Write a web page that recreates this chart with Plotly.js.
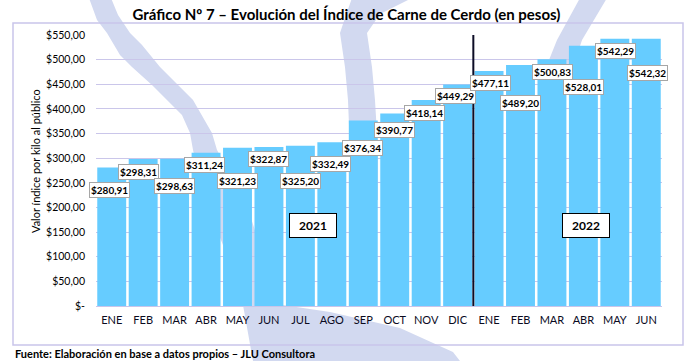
<!DOCTYPE html>
<html>
<head>
<meta charset="utf-8">
<script src="https://cdn.plot.ly/plotly-3.0.1.min.js"></script>
<style>html,body{margin:0;padding:0;background:#fff;}#chart{width:693px;height:361px;}</style>
</head>
<body>
<div id="chart"></div>
<script>
// ---- data ----
const months = ['ENE','FEB','MAR','ABR','MAY','JUN','JUL','AGO','SEP','OCT','NOV','DIC','ENE','FEB','MAR','ABR','MAY','JUN'];
const values = [280.91,298.31,298.63,311.24,321.23,322.87,325.20,332.49,376.34,390.77,418.14,449.29,477.11,489.20,500.83,528.01,542.29,542.32];
const yTickVals = [0,50,100,150,200,250,300,350,400,450,500,550];
const yTickText = ['$-','$50,00','$100,00','$150,00','$200,00','$250,00','$300,00','$350,00','$400,00','$450,00','$500,00','$550,00'];
const years = ['2021','2022'];

// ---- layout helpers (label placement in pixels below bar top) ----
const labelDrop = [22,13,27,12,33,12,35,22,27,17,13,11,12,38,13,41,12,34];
const labelXShift = [-2,-5,0,-2,0,0,0,-1,-1,0,-2,-2,1,0,1,0,1,1];

const L = 96, T = 35, W = 566, H = 271, B0 = 306;
const px = x => (x - L) / W;
const py = y => (B0 - y) / H;
const FONT = 'Lato, "Open Sans", sans-serif';

const fmt = v => '$' + v.toFixed(2).replace('.', ',');
const xs = months.map((m, i) => i);

function pathFrom(pts) {
  return 'M ' + pts.map(p => px(p[0]).toFixed(4) + ',' + py(p[1]).toFixed(4)).join(' L ') + ' Z';
}
const wm = '#d2d9f0';
const band1 = [[89,-2],[97,20],[107,33],[120,55],[132,67],[152,85],[167,100],[182,115],[190,133],[193,150],[205,200],[225,250],[240,290],[243,305],[253,361],[253,366],
               [470,366],[460,361],[453,352],[400,328],[330,312],[283,305],[268,270],[245,200],[217,150],[212,133],[193,100],[178,85],[160,67],[142,45],[130,33],[118,15],[111,-2]];
const band2 = [[352,-2],[345,18],[340,33],[345,67],[348,100],[350,150],[352,200],
               [378,200],[378,150],[375,100],[372,67],[367,33],[380,14],[412,-2]];
const band3 = [[580,-2],[557,40],[545,70],[572,70],[582,40],[607,-2]];

const shapes = [
  {type:'path', xref:'paper', yref:'paper', path: pathFrom(band1), fillcolor: wm, line:{width:0}, layer:'below'},
  {type:'path', xref:'paper', yref:'paper', path: pathFrom(band2), fillcolor: wm, line:{width:0}, layer:'below'},
  {type:'path', xref:'paper', yref:'paper', path: pathFrom(band3), fillcolor: wm, line:{width:0}, layer:'below'},
  {type:'rect', xref:'paper', yref:'paper', x0: px(13), x1: px(683), y0: py(345), y1: py(23),
   line:{color:'#c9c5ea', width:1.5}, fillcolor:'rgba(0,0,0,0)', layer:'below'},
  {type:'line', xref:'x', yref:'y', x0: 11.5, x1: 11.5, y0: 0, y1: 554,
   line:{color:'#0d0d26', width:2}, layer:'above'}
];

const annotations = values.map((v, i) => ({
  x: i, y: v, xref:'x', yref:'y', text: '<b>' + fmt(v) + '</b>', showarrow:false,
  yanchor:'middle', xanchor:'center', yshift: -labelDrop[i], xshift: labelXShift[i],
  bgcolor:'#ffffff', bordercolor:'#a6a6a6', borderwidth:1, borderpad:1,
  font:{family: FONT, size:10, color:'#000'}
}));

const yearPos = [[6.40,164],[15.08,164]];
years.forEach((t, k) => annotations.push({
  x: yearPos[k][0], y: yearPos[k][1], xref:'x', yref:'y', text:'<b>' + t + '</b>', showarrow:false,
  bgcolor:'#ffffff', bordercolor:'#000', borderwidth:1, borderpad:1, width:44, height:21,
  font:{family: FONT, size:12, color:'#000'}
}));

annotations.push({
  xref:'paper', yref:'paper', x: px(35), y: py(161), text:'Valor índice por kilo al público',
  textangle:-90, showarrow:false, xanchor:'center', yanchor:'middle',
  font:{family: FONT, size:11, color:'#000'}
});
annotations.push({
  xref:'paper', yref:'paper', x: px(13), y: py(353), text:'<b>Fuente: Elaboración en base a datos propios – JLU Consultora</b>',
  showarrow:false, xanchor:'left', yanchor:'middle',
  font:{family: FONT, size:11, color:'#000'}
});

const trace = {
  type:'bar', x: xs, y: values, marker:{color:'#66ccff', line:{width:0}},
  hoverinfo:'skip'
};

const layout = {
  width:693, height:361,
  margin:{l:L, r:693 - L - W, t:T, b:361 - B0},
  paper_bgcolor:'#ffffff', plot_bgcolor:'rgba(0,0,0,0)',
  showlegend:false, bargap:0.08,
  title:{text:'<b>Gráfico Nº 7 – Evolución del Índice de Carne de Cerdo (en pesos)</b>',
         xref:'container', yref:'container', x:0.5, y:1 - 15/361, xanchor:'center', yanchor:'middle',
         font:{family: FONT, size:15, color:'#000'}},
  xaxis:{range:[-0.5,17.5], tickvals: xs, ticktext: months, showgrid:false, zeroline:false,
         showline:true, linecolor:'#c9c5ea', linewidth:1, ticks:'', ticklabelstandoff:4,
         tickfont:{family: FONT, size:11, color:'#0a0a1e'}, fixedrange:true},
  yaxis:{range:[0,550], tickvals: yTickVals, ticktext: yTickText, showgrid:true, gridcolor:'#cac6ea', gridwidth:1,
         zeroline:false, showline:false, ticks:'', ticklabelstandoff:10,
         tickfont:{family: FONT, size:10.5, color:'#000'}, fixedrange:true},
  shapes: shapes,
  annotations: annotations
};

Plotly.newPlot('chart', [trace], layout, {staticPlot:true, displayModeBar:false});
</script>
</body>
</html>
